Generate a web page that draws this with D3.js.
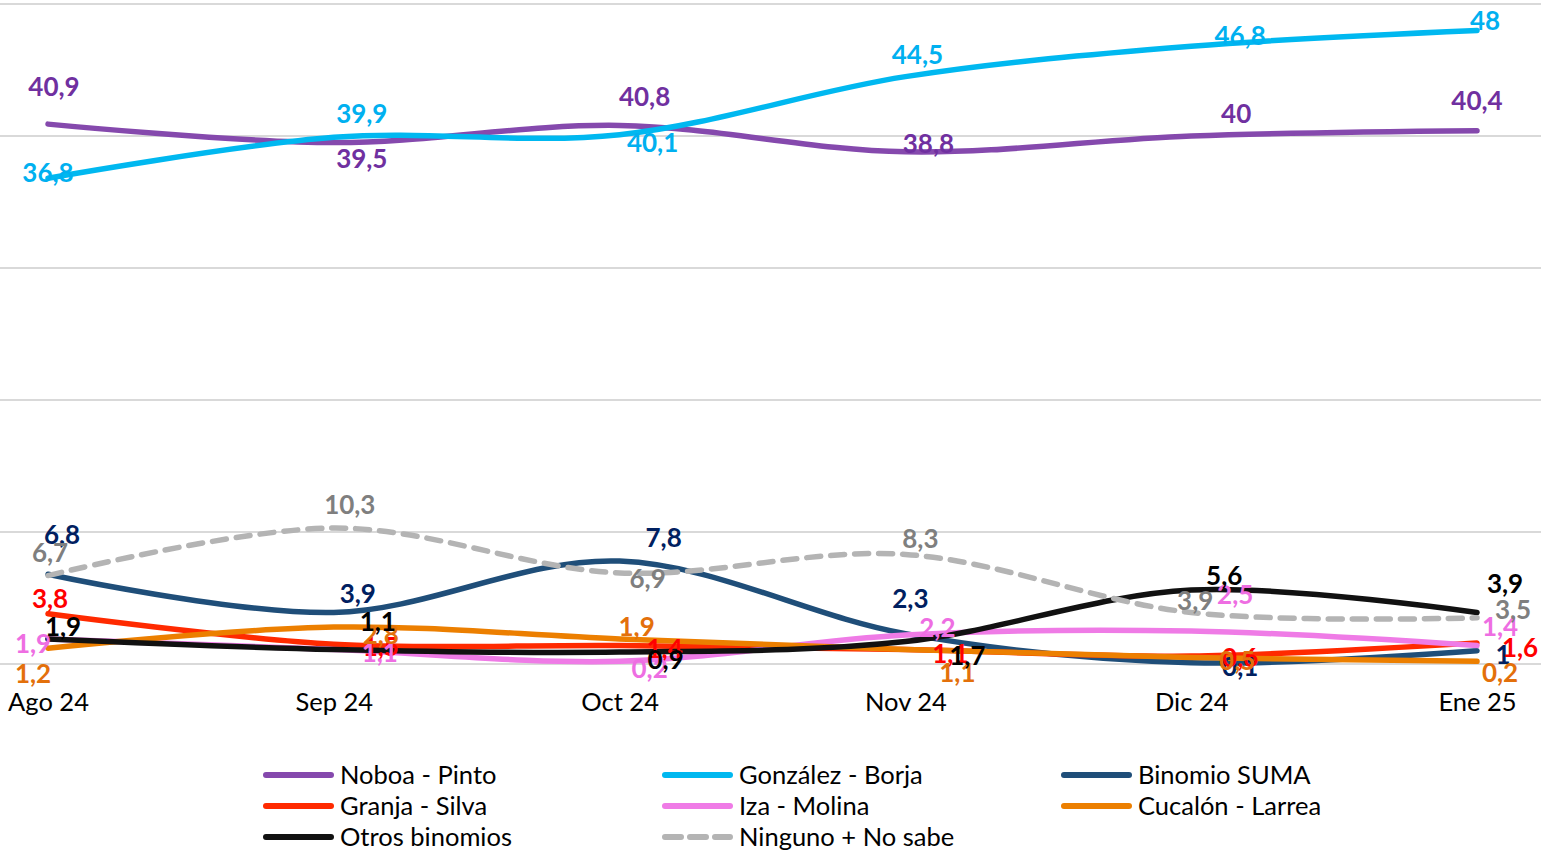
<!DOCTYPE html>
<html>
<head>
<meta charset="utf-8">
<script src="https://cdn.jsdelivr.net/npm/d3@7"></script>
<style>
  body { margin: 0; background: #fff; }
  svg { display: block; font-family: Lato, "Open Sans", sans-serif; }
</style>
</head>
<body>
<svg width="1541" height="851"></svg>
<script>
var months = ["Ago 24", "Sep 24", "Oct 24", "Nov 24", "Dic 24", "Ene 25"];
var yTicks = [0, 10, 20, 30, 40, 50];

var noboa    = [40.9, 39.5, 40.8, 38.8, 40, 40.4];
var gonzalez = [36.8, 39.9, 40.1, 44.5, 46.8, 48];
var suma     = [6.8, 3.9, 7.8, 2.3, 0.1, 1];
var granja   = [3.8, 1.5, 1.4, 1.1, 0.6, 1.6];
var iza      = [1.9, 1.1, 0.2, 2.2, 2.5, 1.4];
var cucalon  = [1.2, 2.8, 1.9, 1.1, 0.5, 0.2];
var otros    = [1.9, 1.1, 0.9, 1.7, 5.6, 3.9];
var ninguno  = [6.7, 10.3, 6.9, 8.3, 3.9, 3.5];

var names = ["Noboa - Pinto", "González - Borja", "Binomio SUMA", "Granja - Silva",
             "Iza - Molina", "Cucalón - Larrea", "Otros binomios", "Ninguno + No sabe"];

var series = [
  {name: names[0], values: noboa,    line: "#8549ad", label: "#7030a0",
   off: [[6,-38],[28,15],[25,-29],[23,-9],[45,-23],[0,-31]]},
  {name: names[1], values: gonzalez, line: "#00b8f0", label: "#00b0f0",
   off: [[0,-6],[28,-24],[33,7],[12,-23],[49,-11],[8,-10]]},
  {name: names[2], values: suma,     line: "#1f4e79", label: "#002060",
   off: [[14,-40],[24,-20],[44,-24],[5,-36],[49,3],[26,3]]},
  {name: names[3], values: granja,   line: "#ff2a00", label: "#ff0000",
   off: [[2,-16],[47,2],[45,2],[45,4],[49,1],[43,4]]},
  {name: names[4], values: iza,      line: "#ef7be6", label: "#ee6ee2",
   off: [[-15,4],[46,3],[30,7],[32,-8],[44,-37],[23,-20]]},
  {name: names[5], values: cucalon,  line: "#ec7f00", label: "#e3700b",
   off: [[-15,25],[47,7],[17,-13],[52,23],[46,3],[23,11]]},
  {name: names[6], values: otros,    line: "#111111", label: "#000000",
   off: [[15,-13],[44,-28],[46,7],[62,13],[33,-15],[28,-30]]},
  {name: names[7], values: ninguno,  line: "#b4b4b4", label: "#7f7f7f", dash: "14,10",
   off: [[2,-24],[16,-24],[28,5],[15,-16],[4,-13],[36,-9]]}
];

var svg = d3.select("svg");

var x = d3.scalePoint().domain(months).range([48, 1477]);
var y = d3.scaleLinear().domain([0, 50]).range([664, 4]);

// gridlines
svg.append("g").selectAll("line")
  .data(yTicks)
  .enter().append("line")
    .attr("x1", 0).attr("x2", 1541)
    .attr("y1", function(d) { return y(d); })
    .attr("y2", function(d) { return y(d); })
    .attr("stroke", "#d9d9d9")
    .attr("stroke-width", 2);

// x axis labels
var xAxis = svg.append("g")
    .attr("transform", "translate(0," + y(0) + ")")
    .call(d3.axisBottom(x).tickSize(0).tickPadding(29));
xAxis.select(".domain").remove();
xAxis.selectAll("text")
    .style("font-family", "Lato, 'Open Sans', sans-serif")
    .style("font-size", "25.5px")
    .attr("fill", "#000");

var line = d3.line()
    .x(function(d, i) { return x(months[i]); })
    .y(function(d) { return y(d); })
    .curve(d3.curveCardinal);

svg.append("g").selectAll("path")
  .data(series)
  .enter().append("path")
    .attr("d", function(s) { return line(s.values); })
    .attr("fill", "none")
    .attr("stroke", function(s) { return s.line; })
    .attr("stroke-width", 5.5)
    .attr("stroke-linecap", "round")
    .attr("stroke-dasharray", function(s) { return s.dash || null; });

// data labels
var fmt = function(v) { return String(v).replace(".", ","); };
var labels = svg.append("g");
series.forEach(function(s) {
  labels.append("g").selectAll("text")
    .data(s.values)
    .enter().append("text")
      .attr("x", function(d, i) { return x(months[i]) + s.off[i][0]; })
      .attr("y", function(d, i) { return y(d) + s.off[i][1]; })
      .attr("text-anchor", "middle")
      .attr("dominant-baseline", "central")
      .attr("fill", s.label)
      .style("font-size", "26px")
      .style("font-weight", "bold")
      .text(fmt);
});

// legend
var legend = svg.append("g").selectAll("g")
  .data(series)
  .enter().append("g")
    .attr("transform", function(s, i) {
      return "translate(" + (263 + (i % 3) * 399) + "," + (775 + Math.floor(i / 3) * 31) + ")";
    });

legend.append("line")
    .attr("x1", 3).attr("x2", 68)
    .attr("stroke", function(s) { return s.line; })
    .attr("stroke-width", 6)
    .attr("stroke-linecap", "round")
    .attr("stroke-dasharray", function(s) { return s.dash ? "16,9" : null; });

legend.append("text")
    .attr("x", 77)
    .attr("dy", "0.35em")
    .attr("fill", "#000")
    .style("font-size", "25.5px")
    .text(function(s) { return s.name; });
</script>
</body>
</html>
